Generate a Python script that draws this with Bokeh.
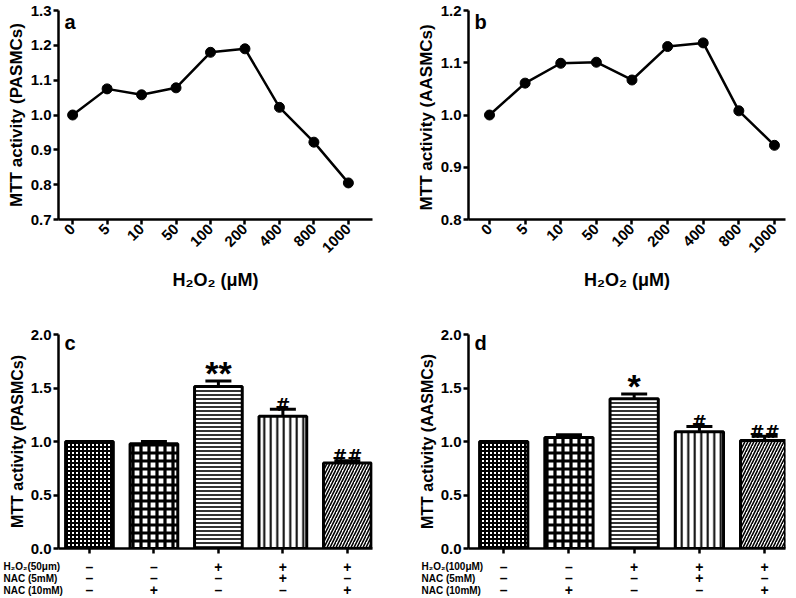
import numpy as np
from bokeh.plotting import figure
from bokeh.layouts import gridplot, column, row
from bokeh.models import FixedTicker, Label, Whisker, TeeHead, ColumnDataSource, PrintfTickFormatter, Range1d
from bokeh.core.properties import value
from bokeh.embed import file_html
from bokeh.resources import INLINE

FONT = "Liberation Sans"

# ---------------- data ----------------
doses = ["0", "5", "10", "50", "100", "200", "400", "800", "1000"]
mtt_pasmc_dose = [1.000, 1.075, 1.058, 1.078, 1.180, 1.190, 1.022, 0.922, 0.805]
mtt_aasmc_dose = [1.000, 1.061, 1.099, 1.101, 1.067, 1.131, 1.138, 1.008, 0.942]

bar_pasmc = [1.00, 0.98, 1.515, 1.237, 0.80]
err_pasmc = [0.0, 0.02, 0.05, 0.065, 0.02]
sig_pasmc = ["", "", "**", "#", "##"]

bar_aasmc = [1.00, 1.037, 1.40, 1.09, 1.01]
err_aasmc = [0.0, 0.025, 0.045, 0.05, 0.04]
sig_aasmc = ["", "", "*", "#", "##"]

rows_c = ["H₂O₂(50μm)", "NAC (5mM)", "NAC (10mM)"]
rows_d = ["H₂O₂(100μM)", "NAC (5mM)", "NAC (10mM)"]
tbl_h2o2 = ["–", "–", "+", "+", "+"]
tbl_nac5 = ["–", "–", "–", "+", "–"]
tbl_nac10 = ["–", "+", "–", "–", "+"]

# ---------------- styles ----------------
hatch_patterns = ["cross", "cross", "horizontal_line", "vertical_line", "right_diagonal_line"]
hatch_scales = [4, 8, 4, 6.5, 6]
hatch_weights = [2.0, 3.2, 1.6, 2.0, 1.6]

W = 398


def style_axes(p, tick_size):
    for ax in p.axis:
        ax.axis_line_width = 2.5
        ax.axis_line_color = "black"
        ax.major_tick_line_width = 2.5
        ax.major_tick_line_color = "black"
        ax.major_tick_out = 5
        ax.major_tick_in = 0
        ax.minor_tick_line_color = None
        ax.major_label_text_font = FONT
        ax.major_label_text_font_style = "bold"
        ax.major_label_text_font_size = tick_size
        ax.major_label_text_color = "black"
        ax.axis_label_text_font = FONT
        ax.axis_label_text_font_style = "bold"
        ax.axis_label_text_color = "black"
        ax.major_label_standoff = 2
        ax.axis_label_standoff = 2
    p.grid.visible = False
    p.outline_line_color = None


def letter(p, txt, x, y, dx, dy):
    p.add_layout(Label(x=x, y=y, x_offset=dx, y_offset=dy, text=txt,
                       text_font=FONT, text_font_style="bold",
                       text_font_size="20px", text_baseline="alphabetic",
                       text_color="black"))


def line_fig(vals, ylo, yhi, yticks, ylabel, txt, xr, borders, ldx, ldy):
    left, right, top, bottom = borders
    p = figure(width=W, height=296, x_range=xr, y_range=(ylo, yhi),
               output_backend="svg", toolbar_location=None,
               min_border_left=left, min_border_right=right,
               min_border_top=top, min_border_bottom=bottom)
    x = list(range(len(doses)))
    p.line(x, vals, line_width=2.5, line_color="black")
    p.scatter(x, vals, size=10, fill_color="black", line_color="black")
    p.xaxis.ticker = FixedTicker(ticks=x)
    p.xaxis.major_label_overrides = {i: d for i, d in enumerate(doses)}
    p.xaxis.major_label_orientation = np.pi / 4
    p.xaxis.axis_label = "H₂O₂ (μM)"
    p.yaxis.ticker = FixedTicker(ticks=yticks)
    p.yaxis.formatter = PrintfTickFormatter(format="%.1f")
    p.yaxis.axis_label = ylabel
    style_axes(p, "15px")
    p.xaxis.major_label_text_font_size = "15px"
    p.xaxis.axis_label_text_font_size = "18px"
    p.xaxis.axis_label_standoff = 10
    p.yaxis.axis_label_text_font_size = "17px"
    letter(p, txt, xr[0], yhi, ldx, ldy)
    return p


def bar_fig(vals, errs, sigs, rows, ylabel, txt, xr, borders, ldx, ldy, rdx):
    left, right, top, bottom = borders
    p = figure(width=W, height=262, x_range=xr, y_range=(0, 2.0),
               output_backend="svg", toolbar_location=None,
               min_border_left=left, min_border_right=right,
               min_border_top=top, min_border_bottom=bottom)
    x = list(range(len(vals)))
    upper = [v + e for v, e in zip(vals, errs)]
    wsrc = ColumnDataSource(dict(
        x=[xi for xi, e in zip(x, errs) if e > 0],
        lower=[v for v, e in zip(vals, errs) if e > 0],
        upper=[u for u, e in zip(upper, errs) if e > 0]))
    p.add_layout(Whisker(source=wsrc, base="x", lower="lower", upper="upper",
                         dimension="height", line_width=3, line_color="black",
                         upper_head=TeeHead(size=26, line_width=3, line_color="black"),
                         lower_head=None))
    src = ColumnDataSource(dict(x=x, top=vals, hp=hatch_patterns,
                                hs=hatch_scales, hw=hatch_weights))
    p.vbar(x="x", top="top", width=0.74, source=src, fill_color="white",
           line_color="black", line_width=3, hatch_pattern="hp",
           hatch_scale="hs", hatch_weight="hw", hatch_color="black")
    # significance marks
    sx = [xi for xi, s in zip(x, sigs) if "*" in s]
    sy = [u for u, s in zip(upper, sigs) if "*" in s]
    st = [s for s in sigs if "*" in s]
    p.text(sx, sy, text=st, text_font=value(FONT), text_font_style="bold",
           text_font_size="34px", text_align="center", text_baseline="alphabetic",
           y_offset=-8, text_color="black")
    hx = [xi for xi, s in zip(x, sigs) if "#" in s]
    hy = [u for u, s in zip(upper, sigs) if "#" in s]
    ht = [s for s in sigs if "#" in s]
    p.text(hx, hy, text=ht, text_font=value("DejaVu Sans"), text_font_style="bold",
           text_font_size="18px", text_align="center", text_baseline="alphabetic",
           y_offset=-5, text_color="black")
    p.xaxis.ticker = FixedTicker(ticks=x)
    p.xaxis.major_label_overrides = {i: "" for i in x}
    p.yaxis.ticker = FixedTicker(ticks=[0.0, 0.5, 1.0, 1.5, 2.0])
    p.yaxis.formatter = PrintfTickFormatter(format="%.1f")
    p.yaxis.axis_label = ylabel
    style_axes(p, "15px")
    p.xaxis.major_label_text_font_size = "0px"
    p.xaxis.major_label_standoff = 0
    p.yaxis.axis_label_text_font_size = "16px"
    letter(p, txt, xr[0], 2.0, ldx, ldy)

    # treatment table: a separate full-width strip whose x-scale matches the bar figure
    k = (W - left - right) / (xr[1] - xr[0])
    txr = (xr[0] - left / k, xr[1] + right / k)
    t = figure(width=W, height=40, x_range=txr, y_range=Range1d(2.723, -0.681),
               output_backend="svg", toolbar_location=None,
               x_axis_type=None, y_axis_type=None,
               min_border_left=0, min_border_right=0,
               min_border_top=0, min_border_bottom=0)
    t.grid.visible = False
    t.outline_line_color = None
    ri = list(range(len(rows)))
    t.text([txr[0]] * len(rows), ri, text=rows, x_offset=rdx,
           text_font=value(FONT), text_font_style="bold", text_font_size="10px",
           text_align="left", text_baseline="middle", text_color="black")
    tx, ty, ts = [], [], []
    for r, syms in enumerate([tbl_h2o2, tbl_nac5, tbl_nac10]):
        for xi, s in zip(x, syms):
            tx.append(xi)
            ty.append(r)
            ts.append(s)
    t.text(tx, ty, text=ts, text_font=value(FONT), text_font_style="bold",
           text_font_size="14px", text_align="center", text_baseline="middle",
           text_color="black")
    return p, t


# frames are aligned by the grid, so paired panels share their borders
pa = line_fig(mtt_pasmc_dose, 0.7, 1.3, [0.7, 0.8, 0.9, 1.0, 1.1, 1.2, 1.3],
              "MTT activity (PASMCs)", "a", (-0.41, 8.70), (58, 26, 10, 77), 6, -11)
pb = line_fig(mtt_aasmc_dose, 0.8, 1.2, [0.8, 0.9, 1.0, 1.1, 1.2],
              "MTT activity  (AASMCs)", "b", (-0.59, 8.31), (70, 11, 10, 77), 6, -11)
pc, tc = bar_fig(bar_pasmc, err_pasmc, sig_pasmc, rows_c, "MTT activity (PASMCs)", "c",
                 (-0.48, 4.39), (58, 26, 38, 10), 6, -8, 3)
pd_, td = bar_fig(bar_aasmc, err_aasmc, sig_aasmc, rows_d, "MTT activity (AASMCs)", "d",
                  (-0.54, 4.32), (70, 11, 38, 10), 6, -8, 23)

grid = gridplot([[pa, pb], [pc, pd_]], toolbar_location=None)
layout = column(grid, row(tc, td))

open("out.html", "w").write(file_html(layout, INLINE))
